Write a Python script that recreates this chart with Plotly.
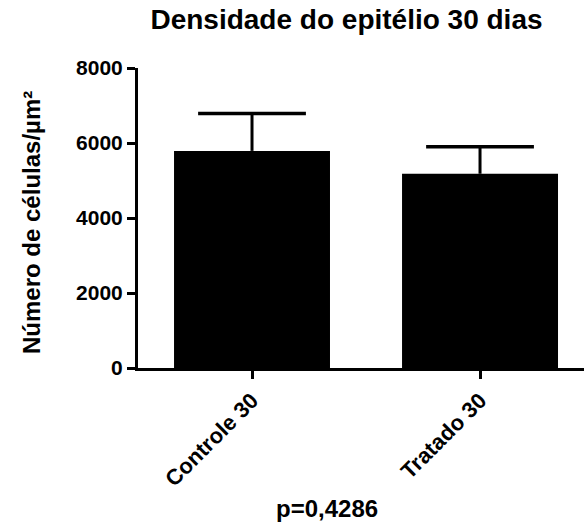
import plotly.graph_objects as go

# Group means and error (SEM) for epithelial cell density at 30 days
categories = ["Controle 30", "Tratado 30"]
means = [5790, 5180]
errors = [1000, 720]
y_ticks = [0, 2000, 4000, 6000, 8000]

FONT = "Liberation Sans, Arial, sans-serif"

# Upper ends of the error bars, where the caps sit
err_tops = [m + e for m, e in zip(means, errors)]

fig = go.Figure()

# Bars with the upward error stem (no caps on the stem itself)
fig.add_trace(
    go.Bar(
        x=categories,
        y=means,
        width=0.684,
        marker=dict(color="black", line=dict(width=0)),
        error_y=dict(type="data", array=errors, symmetric=False,
                     arrayminus=[0, 0], color="black", thickness=3, width=0),
        showlegend=False,
        hoverinfo="skip",
    )
)

# Caps at the top of each error bar
fig.add_trace(
    go.Scatter(
        x=categories,
        y=err_tops,
        mode="markers",
        marker=dict(symbol="line-ew", size=77,
                    line=dict(color="black", width=3.5)),
        showlegend=False,
        hoverinfo="skip",
    )
)

fig.update_layout(
    width=584,
    height=529,
    margin=dict(l=138, r=0, t=68, b=161),
    paper_bgcolor="white",
    plot_bgcolor="white",
    font=dict(family=FONT, color="black", size=20, weight="bold"),
    title=dict(
        text="Densidade do epitélio 30 dias",
        x=346.5 / 584, xanchor="center", xref="container",
        y=1 - 19 / 529, yanchor="middle", yref="container",
        font=dict(family=FONT, size=28, color="black", weight="bold"),
    ),
    xaxis=dict(
        range=[-0.5, 1.456],
        showline=True, linecolor="black", linewidth=3,
        ticks="outside", ticklen=8, tickwidth=3, tickcolor="black",
        tickangle=-45,
        tickfont=dict(family=FONT, size=22, color="black", weight="bold"),
        showgrid=False, zeroline=False,
    ),
    yaxis=dict(
        range=[0, 8000],
        tickvals=y_ticks,
        ticktext=[str(v) for v in y_ticks],
        showline=True, linecolor="black", linewidth=3,
        ticks="outside", ticklen=8, tickwidth=3, tickcolor="black",
        tickfont=dict(family=FONT, size=21, color="black", weight="bold"),
        showgrid=False, zeroline=False,
    ),
    annotations=[
        dict(
            text="Número de células/µm²",
            textangle=-90,
            xref="paper", yref="paper",
            x=(32 - 138) / 446, y=(368 - 223) / 300,
            xanchor="center", yanchor="middle",
            showarrow=False,
            font=dict(family=FONT, size=24, color="black", weight="bold"),
        ),
        dict(
            text="p=0,4286",
            xref="paper", yref="paper",
            x=(327 - 138) / 446, y=(368 - 508) / 300,
            xanchor="center", yanchor="middle",
            showarrow=False,
            font=dict(family=FONT, size=24, color="black", weight="bold"),
        ),
    ],
)

fig.write_html("out.html")
